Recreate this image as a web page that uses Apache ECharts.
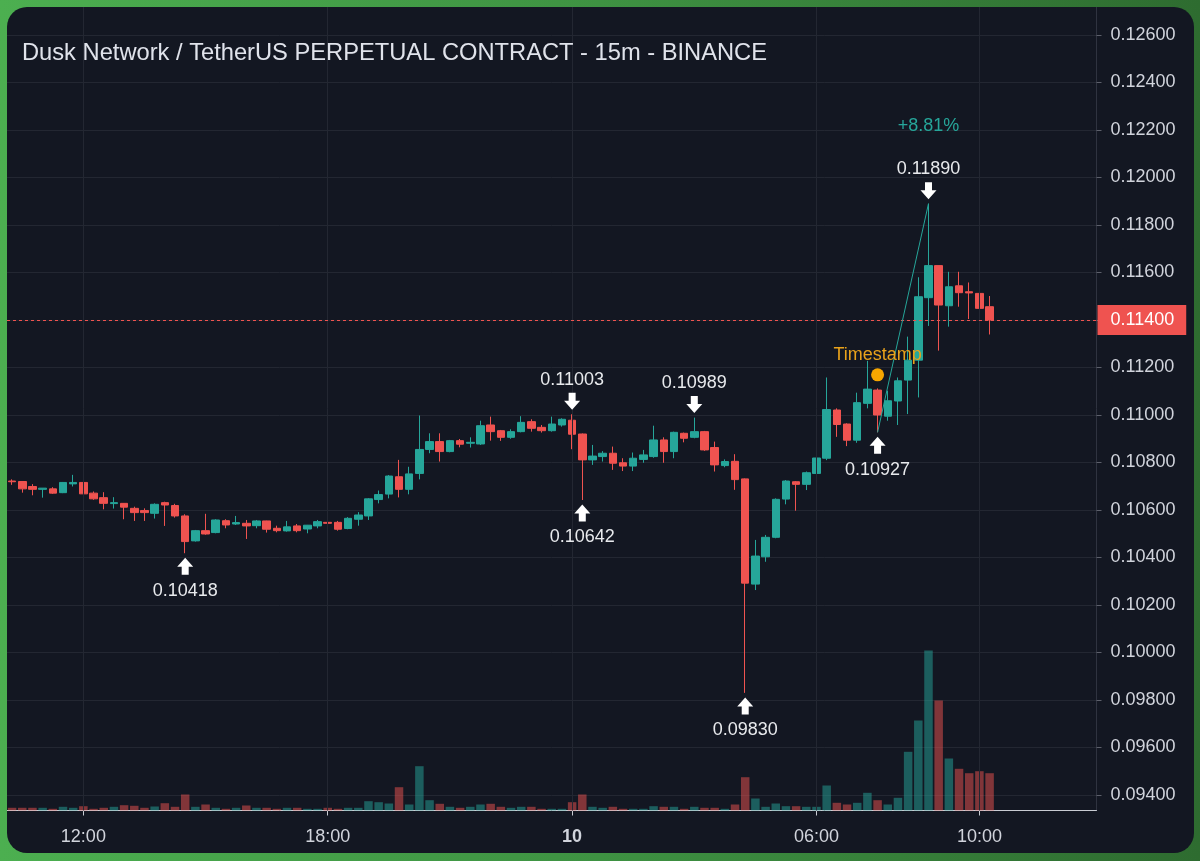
<!DOCTYPE html>
<html>
<head>
<meta charset="utf-8">
<script src="https://cdn.jsdelivr.net/npm/echarts@6/dist/echarts.min.js"></script>
<style>
html,body{margin:0;padding:0;width:1200px;height:861px;overflow:hidden;}
body{background:linear-gradient(to right,#4caf50 0%,#3e9242 50%,#2e6c30 100%);}
#panel{position:absolute;left:7px;top:7px;width:1187px;height:846px;border-radius:20px;background:#131722;overflow:hidden;}
#chart{position:absolute;left:-7px;top:-7px;width:1200px;height:861px;}
</style>
</head>
<body>
<div id="panel"><div id="chart"></div></div>
<script>
// ---------------- DATA ----------------
const chartTitle = 'Dusk Network / TetherUS PERPETUAL CONTRACT - 15m - BINANCE';

// 15-minute candles, 10:15 (day 9) to 10:15 (day 10)
const opens = [
0.10722,0.10720,0.10699,0.10687,0.10689,0.10673,0.10710,0.10716,0.10671,0.10652,
0.10627,0.10628,0.10607,0.10598,0.10586,0.10631,0.10619,0.10575,0.10470,0.10513,
0.10505,0.10555,0.10541,0.10544,0.10534,0.10554,0.10523,0.10512,0.10533,0.10520,
0.10533,0.10548,0.10548,0.10522,0.10561,0.10575,0.10644,0.10667,0.10740,0.10687,
0.10754,0.10855,0.10888,0.10846,0.10892,0.10881,0.10878,0.10958,0.10934,0.10906,
0.10930,0.10972,0.10948,0.10934,0.10958,0.10978,0.10920,0.10811,0.10825,0.10839,
0.10799,0.10785,0.10813,0.10825,0.10895,0.10846,0.10923,0.10906,0.10930,0.10863,
0.10787,0.10805,0.10731,0.10288,0.10403,0.10485,0.10646,0.10719,0.10708,0.10754,
0.10818,0.11021,0.10962,0.10894,0.11049,0.11105,0.10995,0.11059,0.11147,0.11231,
0.11494,0.11629,0.11460,0.11544,0.11519,0.11512,0.11456];
const highs = [
0.10729,0.10721,0.10709,0.10692,0.10696,0.10718,0.10748,0.10718,0.10678,0.10675,
0.10654,0.10629,0.10614,0.10607,0.10628,0.10635,0.10626,0.10582,0.10516,0.10584,
0.10561,0.10561,0.10575,0.10558,0.10558,0.10555,0.10534,0.10554,0.10541,0.10537,
0.10558,0.10549,0.10554,0.10570,0.10591,0.10650,0.10682,0.10747,0.10811,0.10782,
0.10998,0.10923,0.10923,0.10895,0.10899,0.10906,0.10976,0.10993,0.10937,0.10940,
0.10995,0.10982,0.10958,0.10993,0.10986,0.11003,0.10922,0.10874,0.10848,0.10867,
0.10818,0.10842,0.10853,0.10955,0.10906,0.10930,0.10926,0.10989,0.10933,0.10888,
0.10813,0.10835,0.10733,0.10474,0.10495,0.10649,0.10726,0.10722,0.10762,0.10836,
0.11158,0.11028,0.10965,0.11094,0.11228,0.11112,0.11102,0.11158,0.11330,0.11580,
0.11890,0.11629,0.11603,0.11603,0.11558,0.11540,0.11501];
const lows = [
0.10706,0.10673,0.10662,0.10652,0.10668,0.10671,0.10699,0.10643,0.10643,0.10603,
0.10606,0.10561,0.10554,0.10554,0.10564,0.10533,0.10568,0.10418,0.10467,0.10496,
0.10502,0.10523,0.10537,0.10478,0.10523,0.10505,0.10506,0.10509,0.10506,0.10502,
0.10523,0.10509,0.10513,0.10519,0.10534,0.10558,0.10628,0.10649,0.10653,0.10666,
0.10729,0.10839,0.10804,0.10843,0.10864,0.10863,0.10874,0.10892,0.10891,0.10900,
0.10927,0.10930,0.10926,0.10930,0.10951,0.10856,0.10642,0.10790,0.10804,0.10769,
0.10764,0.10764,0.10799,0.10820,0.10799,0.10818,0.10885,0.10902,0.10849,0.10762,
0.10780,0.10685,0.09830,0.10263,0.10382,0.10481,0.10624,0.10597,0.10684,0.10729,
0.10810,0.10908,0.10869,0.10883,0.11028,0.10927,0.10976,0.10958,0.11004,0.11074,
0.11375,0.11271,0.11372,0.11456,0.11404,0.11414,0.11339];
const closes = [
0.10719,0.10689,0.10687,0.10692,0.10671,0.10716,0.10716,0.10668,0.10647,0.10628,
0.10631,0.10612,0.10589,0.10589,0.10624,0.10621,0.10575,0.10467,0.10513,0.10499,
0.10558,0.10537,0.10547,0.10533,0.10554,0.10519,0.10513,0.10529,0.10513,0.10536,
0.10551,0.10544,0.10519,0.10565,0.10579,0.10647,0.10665,0.10743,0.10687,0.10752,
0.10855,0.10888,0.10846,0.10892,0.10877,0.10885,0.10955,0.10930,0.10906,0.10930,
0.10969,0.10944,0.10934,0.10962,0.10982,0.10919,0.10811,0.10827,0.10839,0.10797,
0.10785,0.10818,0.10832,0.10895,0.10846,0.10927,0.10902,0.10930,0.10853,0.10790,
0.10804,0.10728,0.10292,0.10406,0.10485,0.10645,0.10722,0.10708,0.10757,0.10819,
0.11023,0.10960,0.10894,0.11052,0.11109,0.11000,0.11060,0.11144,0.11231,0.11498,
0.11629,0.11463,0.11540,0.11515,0.11514,0.11449,0.11400];
// volume (relative units)
const volumes = [
270,270,270,270,170,370,270,430,170,270,
370,530,470,270,400,730,370,1600,370,600,
270,170,270,500,270,270,170,270,270,170,
170,270,170,270,270,930,830,700,2330,600,
4430,1030,670,370,270,370,600,670,370,270,
370,370,170,170,170,830,1600,370,270,370,
170,170,170,430,370,370,170,370,270,270,
170,600,3330,1200,370,700,430,430,370,370,
2500,770,600,770,1770,1030,600,1270,5870,9000,
16000,11000,5200,4170,3730,3930,3730];

// time axis: 15m slots (97 candles + empty right margin)
const slotCount = 107;
const firstSlotMinutes = 10 * 60 + 15;   // 10:15 on day 9
const firstDay = 9;
const timeTicks = ['9 12:00', '9 18:00', '10 00:00', '10 06:00', '10 10:00'];

// annotations
const pivotLows = [17, 56, 72, 85];
const pivotHighs = [55, 67, 90];
const rangeFrom = 85, rangeTo = 90;
const timestampMark = { index: 85, price: 0.11169, text: 'Timestamp' };

// ---------------- BUILD ----------------
const categories = [];
for (let i = 0; i < slotCount; i++) {
  const m = firstSlotMinutes + i * 15;
  const d = firstDay + Math.floor(m / 1440);
  const mm = m % 1440;
  categories.push(d + ' ' + String(Math.floor(mm / 60)).padStart(2, '0') + ':' + String(mm % 60).padStart(2, '0'));
}
const tickSet = new Set(timeTicks);

const FONT = "'Liberation Sans', Arial, sans-serif";
const UP = '#26a69a', DOWN = '#ef5350';
const TXT = '#d1d4dc';
const GRID = '#232732';

const candleData = opens.map((o, i) => [o, closes[i], lows[i], highs[i]]);
const volData = volumes.map((v, i) => ({
  value: v,
  itemStyle: { color: closes[i] >= opens[i] ? 'rgba(38,166,154,0.5)' : 'rgba(239,83,80,0.5)' }
}));
const lastClose = closes[closes.length - 1];

const upArrow = 'path://M8,0 L16,9 L11.5,9 L11.5,17 L4.5,17 L4.5,9 L0,9 Z';
const downArrow = 'path://M4.5,0 L11.5,0 L11.5,8 L16,8 L8,17 L0,8 L4.5,8 Z';

const markPoints = [];
pivotLows.forEach(i => markPoints.push({
  coord: [categories[i], lows[i]], value: lows[i],
  symbol: upArrow, symbolSize: [16, 17], symbolOffset: [0, 13],
  itemStyle: { color: '#ffffff' },
  label: { show: true, position: 'bottom', distance: 7, formatter: lows[i].toFixed(5),
           color: '#e8eaed', fontSize: 18, fontFamily: FONT }
}));
pivotHighs.forEach(i => markPoints.push({
  coord: [categories[i], highs[i]], value: highs[i],
  symbol: downArrow, symbolSize: [16, 17], symbolOffset: [0, -13],
  itemStyle: { color: '#ffffff' },
  label: { show: true, position: 'top', distance: 4, formatter: highs[i].toFixed(5),
           color: '#e8eaed', fontSize: 18, fontFamily: FONT }
}));
const pct = (highs[rangeTo] / lows[rangeFrom] - 1) * 100;
markPoints.push({
  coord: [categories[rangeTo], highs[rangeTo]], value: pct,
  symbol: 'circle', symbolSize: 1, itemStyle: { color: 'rgba(0,0,0,0)' },
  label: { show: true, position: 'top', distance: 68, formatter: '+' + pct.toFixed(2) + '%',
           color: UP, fontSize: 18, fontFamily: FONT }
});
markPoints.push({
  coord: [categories[timestampMark.index], timestampMark.price], value: timestampMark.price,
  symbol: 'circle', symbolSize: 13, itemStyle: { color: '#f7a600' },
  label: { show: true, position: 'top', distance: 4, formatter: timestampMark.text,
           color: '#e9a21b', fontSize: 18, fontFamily: FONT }
});

const option = {
  backgroundColor: 'transparent',
  animation: false,
  title: {
    text: chartTitle, left: 17, top: 36,
    textStyle: { color: '#e0e3eb', fontSize: 23.7, fontWeight: 'normal', fontFamily: FONT }
  },
  grid: [
    { left: 7, right: 103.5, top: 35, bottom: 66 },
    { left: 7, right: 103.5, top: 7, bottom: 50.5 }
  ],
  xAxis: [
    { type: 'category', gridIndex: 0, data: categories, boundaryGap: true, show: false },
    { type: 'category', gridIndex: 1, data: categories, boundaryGap: true,
      axisLine: { show: true, lineStyle: { color: '#c9ccd3', width: 1 } },
      axisTick: { show: true, alignWithLabel: true, length: 5,
                  interval: (i, v) => tickSet.has(v), lineStyle: { color: '#c9ccd3' } },
      axisLabel: {
        show: true, interval: (i, v) => tickSet.has(v), margin: 18,
        color: TXT, fontSize: 18, fontFamily: FONT,
        formatter: v => { const t = v.split(' '); return t[1] === '00:00' ? '{day|' + t[0] + '}' : t[1]; },
        rich: { day: { fontWeight: 'bold', fontSize: 18, color: TXT, fontFamily: FONT } }
      },
      splitLine: { show: false }
    }
  ],
  yAxis: [
    { type: 'value', gridIndex: 0, position: 'right', min: 0.094, max: 0.126, interval: 0.002,
      axisLine: { show: false },
      axisTick: { show: true, length: 5, lineStyle: { color: '#5d606b' } },
      axisLabel: { formatter: v => v.toFixed(5), color: TXT, fontSize: 18, margin: 14, fontFamily: FONT },
      splitLine: { show: true, lineStyle: { color: GRID, width: 1 } }
    },
    { type: 'value', gridIndex: 1, position: 'right', min: 0, max: 80350,
      axisLine: { show: true, lineStyle: { color: '#2f3340', width: 1 } },
      axisTick: { show: false }, axisLabel: { show: false }, splitLine: { show: false }
    }
  ],
  series: [
    { type: 'bar', name: 'Volume', xAxisIndex: 1, yAxisIndex: 1, data: volData,
      barWidth: 8.5, z: 1, silent: true,
      markLine: { silent: true, symbol: 'none', label: { show: false },
        lineStyle: { color: GRID, type: 'solid', width: 1 },
        data: timeTicks.map(c => ({ xAxis: c })) }
    },
    { type: 'candlestick', name: 'DUSKUSDT.P', xAxisIndex: 0, yAxisIndex: 0, data: candleData,
      barWidth: 8, z: 3, silent: true,
      itemStyle: { color: UP, color0: DOWN, borderColor: UP, borderColor0: DOWN, borderWidth: 1 },
      markLine: { silent: true, symbol: 'none', animation: false, precision: 5,
        data: [
          { yAxis: lastClose,
            lineStyle: { color: DOWN, type: [3, 3], width: 1 },
            label: { show: true, position: 'end', distance: 1, formatter: lastClose.toFixed(5),
                     backgroundColor: DOWN, color: '#ffffff', fontSize: 18, fontFamily: FONT,
                     padding: [6, 12, 6, 13] } },
          [ { coord: [categories[rangeFrom], lows[rangeFrom]],
              lineStyle: { color: UP, type: 'solid', width: 1 }, label: { show: false } },
            { coord: [categories[rangeTo], highs[rangeTo]] } ]
        ]
      },
      markPoint: { silent: true, animation: false, data: markPoints }
    }
  ]
};

const chart = echarts.init(document.getElementById('chart'), null, { renderer: 'canvas' });
chart.setOption(option);
</script>
</body>
</html>
